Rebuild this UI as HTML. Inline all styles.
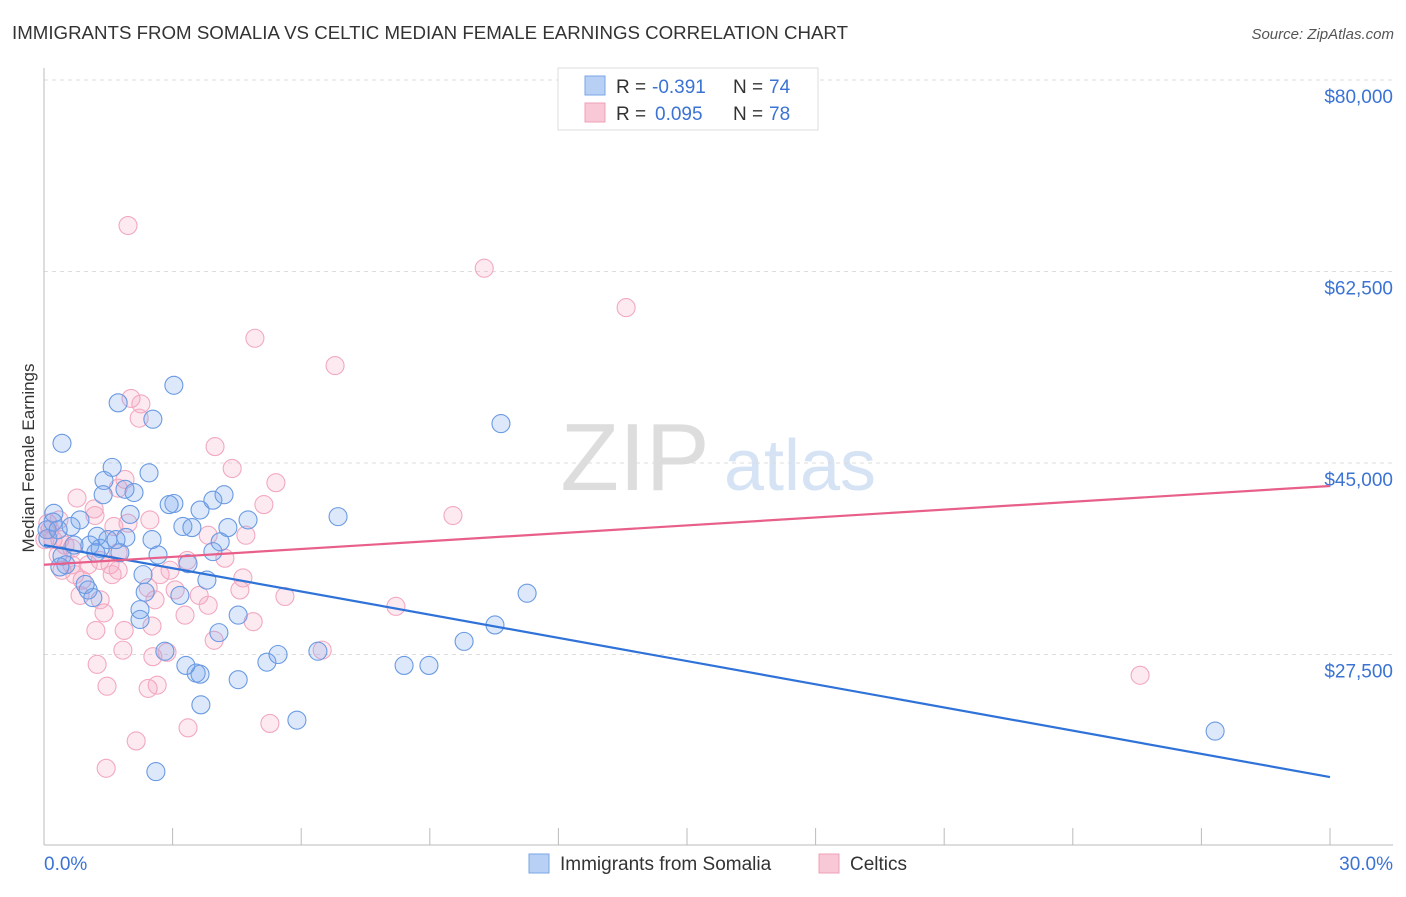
<!DOCTYPE html>
<html><head><meta charset="utf-8"><style>
body{margin:0;background:#fff;font-family:"Liberation Sans",sans-serif}
svg text{font-family:"Liberation Sans",sans-serif}
</style></head><body>
<svg id="c" width="1406" height="892" xmlns="http://www.w3.org/2000/svg">
<text x="12" y="39" font-size="18" fill="#333" textLength="836" lengthAdjust="spacingAndGlyphs">IMMIGRANTS FROM SOMALIA VS CELTIC MEDIAN FEMALE EARNINGS CORRELATION CHART</text>
<text x="1394" y="39" font-size="15" fill="#555" font-style="italic" text-anchor="end">Source: ZipAtlas.com</text>
<text transform="translate(34,458) rotate(-90)" font-size="17" fill="#333" text-anchor="middle">Median Female Earnings</text>
<g><text x="635" y="490" font-size="96" fill="#ddd" font-family="Liberation Serif" text-anchor="middle">ZIP</text><text x="800" y="490" font-size="72" fill="#d6e3f5" text-anchor="middle">atlas</text></g>
<g id="grid"></g><g id="ax"></g><g id="pts"></g><g id="lines"></g>
<g>
<rect x="558" y="68" width="260" height="62" fill="#fff" stroke="#ddd"/>
<rect x="585" y="76" width="20" height="19" fill="#b8d0f4" stroke="#7aa6e6"/>
<rect x="585" y="103" width="20" height="19" fill="#f8c8d6" stroke="#f0a0b8"/>
<text x="616" y="93" font-size="19" fill="#333">R =</text><text x="652" y="93" font-size="19" fill="#3b73d4">-0.391</text><text x="733" y="93" font-size="19" fill="#333">N =</text><text x="769" y="93" font-size="19" fill="#3b73d4">74</text>
<text x="616" y="120" font-size="19" fill="#333">R =</text><text x="655" y="120" font-size="19" fill="#3b73d4">0.095</text><text x="733" y="120" font-size="19" fill="#333">N =</text><text x="769" y="120" font-size="19" fill="#3b73d4">78</text>
</g>
<g>
<rect x="529" y="854" width="20" height="19" fill="#b8d0f4" stroke="#7aa6e6"/>
<text x="560" y="870" font-size="19" fill="#333">Immigrants from Somalia</text>
<rect x="819" y="854" width="20" height="19" fill="#f8c8d6" stroke="#f0a0b8"/>
<text x="850" y="870" font-size="19" fill="#333">Celtics</text>
</g>
</svg>
<script>
const yTicks=[80000,62500,45000,27500];
const yTickLabels=["$80,000","$62,500","$45,000","$27,500"];
const blueX=[0.42,1.73,2.54,3.03,10.66,1.59,2.45,1.40,1.38,2.10,1.89,0.23,0.84,0.63,1.24,2.01,3.03,2.92,3.64,3.94,4.20,3.24,3.45,4.29,4.76,6.86,4.11,3.94,2.66,3.36,1.91,1.77,1.07,1.31,0.42,0.51,0.37,2.31,3.80,1.03,1.14,2.36,3.17,4.53,2.24,4.08,2.82,3.55,3.64,3.31,4.53,5.20,5.46,6.39,8.40,8.98,9.80,10.52,11.27,3.66,5.90,2.61,27.32,0.21,0.09,0.70,0.07,0.33,1.49,1.21,1.68,2.24,2.52,0.96];
const blueY=[46.8,50.5,49.0,52.1,48.6,44.6,44.1,43.4,42.1,42.3,42.6,40.4,39.8,39.2,38.3,40.3,41.3,41.2,40.7,41.6,42.1,39.2,39.1,39.1,39.8,40.1,37.8,36.9,36.6,35.8,38.2,36.8,37.5,37.2,36.5,35.7,35.5,34.8,34.3,33.4,32.7,33.2,32.9,31.1,30.7,29.5,27.8,25.8,25.7,26.5,25.2,26.8,27.5,27.8,26.5,26.5,28.7,30.2,33.1,22.9,21.5,16.8,20.5,39.6,38.1,37.5,38.9,38.9,38.0,36.8,38.0,31.6,38.0,33.9];
const pinkX=[1.96,10.27,13.58,4.92,6.79,2.03,2.26,2.22,3.99,4.39,5.41,1.89,0.77,1.17,5.13,9.54,1.96,1.63,1.73,0.35,0.14,0.21,0.09,0.37,0.65,1.03,1.54,0.65,0.42,0.72,0.89,1.59,2.71,2.94,3.34,4.22,4.64,3.62,3.83,2.43,3.29,1.40,1.31,2.59,2.52,4.88,3.97,1.21,2.87,2.54,6.49,2.43,2.64,1.24,1.47,1.84,8.21,25.57,1.87,3.36,5.27,2.15,1.45,4.71,2.47,3.83,1.73,0.84,4.57,1.31,0.49,0.33,0.02,3.06,5.62,1.73,1.19];
const pinkY=[66.7,62.8,59.2,56.4,53.9,50.9,50.4,49.1,46.5,44.5,43.2,43.5,41.8,40.8,41.2,40.2,39.5,39.2,36.8,39.8,38.9,38.0,39.5,38.0,37.2,35.7,35.7,35.7,35.2,34.8,34.3,34.8,34.8,35.2,36.1,36.3,34.5,32.9,32.0,33.6,31.1,31.3,32.5,32.5,30.1,30.5,28.8,29.7,27.7,27.3,27.9,24.4,24.7,26.6,24.6,27.9,31.9,25.6,29.7,20.8,21.2,19.6,17.1,38.4,39.8,38.4,35.2,32.9,33.4,36.1,37.5,36.6,38.0,33.4,32.8,42.7,40.2];
const blueLine=[37.5,16.3];
const pinkLine=[35.7,42.9];
const NS="http://www.w3.org/2000/svg";
const X=p=>44+p*1286/30;
const Y=v=>80+(80000-v)*191.5/17500;
function mk(t,a,parent){const e=document.createElementNS(NS,t);for(const k in a)e.setAttribute(k,a[k]);parent.appendChild(e);return e;}
const grid=document.getElementById('grid'),ax=document.getElementById('ax');
yTicks.forEach((v,i)=>{
 const l=mk('line',{x1:44,x2:1393,y1:Y(v),y2:Y(v),stroke:'#ddd','stroke-dasharray':'4,4'},grid);
 
 
 const t=mk('text',{x:1393,y:Y(v)+23,'font-size':19,fill:'#3b73d4','text-anchor':'end'},ax);
 t.textContent=yTickLabels[i];
 
 
});
mk('line',{x1:44,x2:44,y1:68,y2:845,stroke:'#bbb'},ax);
mk('line',{x1:44,x2:1393,y1:845,y2:845,stroke:'#bbb'},ax);
for(let i=0;i<=10;i++){const tk=mk('line',{x1:X(i*3),x2:X(i*3),y1:828,y2:845,stroke:'#bbb'},ax);
 
 }
const x0=mk('text',{x:44,y:870,'font-size':19,fill:'#3b73d4'},ax);x0.textContent='0.0%';


const x1=mk('text',{x:1393,y:870,'font-size':19,fill:'#3b73d4','text-anchor':'end'},ax);x1.textContent='30.0%';


const pts=document.getElementById('pts');
pinkX.forEach((x,i)=>{const c=mk('circle',{cx:X(x),cy:Y(pinkY[i]*1000),r:9,fill:'rgba(244,160,188,0.22)',stroke:'#f2a8c0','stroke-width':1.1},pts);
 
 });
blueX.forEach((x,i)=>{const c=mk('circle',{cx:X(x),cy:Y(blueY[i]*1000),r:9,fill:'rgba(120,168,238,0.25)',stroke:'#6a9ae2','stroke-width':1.1},pts);
 
 });
const lines=document.getElementById('lines');
const bl=mk('line',{x1:X(0),y1:Y(blueLine[0]*1000),x2:X(30),y2:Y(blueLine[1]*1000),stroke:'#2f72d8','stroke-width':2.2},lines);


const pl=mk('line',{x1:X(0),y1:Y(pinkLine[0]*1000),x2:X(30),y2:Y(pinkLine[1]*1000),stroke:'#e8608a','stroke-width':2.2},lines);


</script>
</body></html>
